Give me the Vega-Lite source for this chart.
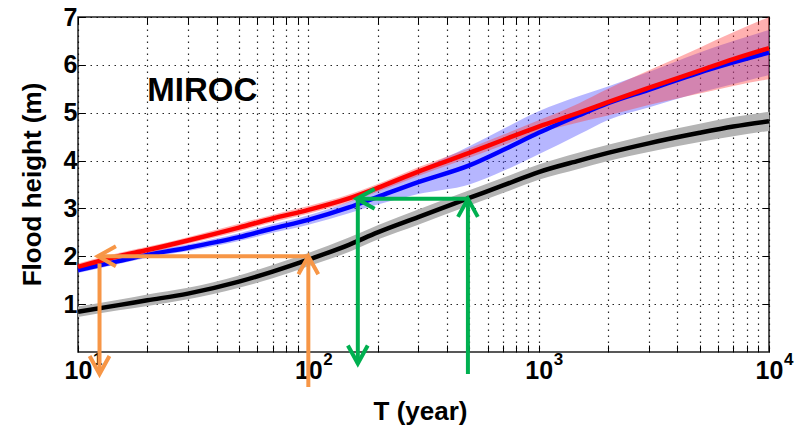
{
  "$schema": "https://vega.github.io/schema/vega-lite/v6.json",
  "width": 691,
  "height": 335,
  "autosize": {"type": "none"},
  "padding": {"left": 78, "top": 17, "right": 33, "bottom": 75},
  "background": "white",
  "datasets": {
    "curves": [
      {"s": "obs", "T": 10, "y": 0.84, "lo": 0.73, "hi": 0.95},
      {"s": "obs", "T": 15, "y": 0.98, "lo": 0.87, "hi": 1.09},
      {"s": "obs", "T": 20, "y": 1.08, "lo": 0.96, "hi": 1.2},
      {"s": "obs", "T": 30, "y": 1.22, "lo": 1.1, "hi": 1.34},
      {"s": "obs", "T": 50, "y": 1.47, "lo": 1.34, "hi": 1.6},
      {"s": "obs", "T": 70, "y": 1.68, "lo": 1.54, "hi": 1.82},
      {"s": "obs", "T": 100, "y": 1.93, "lo": 1.79, "hi": 2.07},
      {"s": "obs", "T": 150, "y": 2.24, "lo": 2.09, "hi": 2.39},
      {"s": "obs", "T": 200, "y": 2.5, "lo": 2.35, "hi": 2.65},
      {"s": "obs", "T": 300, "y": 2.82, "lo": 2.66, "hi": 2.98},
      {"s": "obs", "T": 500, "y": 3.22, "lo": 3.06, "hi": 3.38},
      {"s": "obs", "T": 700, "y": 3.48, "lo": 3.32, "hi": 3.64},
      {"s": "obs", "T": 1000, "y": 3.76, "lo": 3.6, "hi": 3.92},
      {"s": "obs", "T": 1500, "y": 4.0, "lo": 3.83, "hi": 4.17},
      {"s": "obs", "T": 2000, "y": 4.16, "lo": 3.99, "hi": 4.33},
      {"s": "obs", "T": 3000, "y": 4.36, "lo": 4.18, "hi": 4.54},
      {"s": "obs", "T": 5000, "y": 4.58, "lo": 4.39, "hi": 4.77},
      {"s": "obs", "T": 7000, "y": 4.71, "lo": 4.51, "hi": 4.91},
      {"s": "obs", "T": 10000, "y": 4.82, "lo": 4.62, "hi": 5.02},
      {"s": "blue", "T": 10, "y": 1.71, "lo": 1.65, "hi": 1.77},
      {"s": "blue", "T": 15, "y": 1.9, "lo": 1.84, "hi": 1.96},
      {"s": "blue", "T": 20, "y": 2.03, "lo": 1.97, "hi": 2.09},
      {"s": "blue", "T": 30, "y": 2.18, "lo": 2.11, "hi": 2.25},
      {"s": "blue", "T": 50, "y": 2.4, "lo": 2.32, "hi": 2.48},
      {"s": "blue", "T": 70, "y": 2.58, "lo": 2.49, "hi": 2.67},
      {"s": "blue", "T": 100, "y": 2.76, "lo": 2.66, "hi": 2.86},
      {"s": "blue", "T": 150, "y": 3.02, "lo": 2.9, "hi": 3.14},
      {"s": "blue", "T": 200, "y": 3.24, "lo": 3.08, "hi": 3.4},
      {"s": "blue", "T": 300, "y": 3.55, "lo": 3.3, "hi": 3.8},
      {"s": "blue", "T": 500, "y": 3.9, "lo": 3.5, "hi": 4.3},
      {"s": "blue", "T": 700, "y": 4.22, "lo": 3.78, "hi": 4.66},
      {"s": "blue", "T": 1000, "y": 4.58, "lo": 4.13, "hi": 5.03},
      {"s": "blue", "T": 1500, "y": 4.95, "lo": 4.55, "hi": 5.35},
      {"s": "blue", "T": 2000, "y": 5.2, "lo": 4.85, "hi": 5.55},
      {"s": "blue", "T": 3000, "y": 5.48, "lo": 5.11, "hi": 5.85},
      {"s": "blue", "T": 5000, "y": 5.84, "lo": 5.42, "hi": 6.26},
      {"s": "blue", "T": 7000, "y": 6.05, "lo": 5.6, "hi": 6.5},
      {"s": "blue", "T": 10000, "y": 6.26, "lo": 5.79, "hi": 6.73},
      {"s": "red", "T": 10, "y": 1.78, "lo": 1.71, "hi": 1.85},
      {"s": "red", "T": 15, "y": 2.0, "lo": 1.93, "hi": 2.07},
      {"s": "red", "T": 20, "y": 2.13, "lo": 2.06, "hi": 2.2},
      {"s": "red", "T": 30, "y": 2.33, "lo": 2.26, "hi": 2.4},
      {"s": "red", "T": 50, "y": 2.6, "lo": 2.52, "hi": 2.68},
      {"s": "red", "T": 70, "y": 2.79, "lo": 2.71, "hi": 2.87},
      {"s": "red", "T": 100, "y": 2.97, "lo": 2.89, "hi": 3.05},
      {"s": "red", "T": 150, "y": 3.21, "lo": 3.13, "hi": 3.29},
      {"s": "red", "T": 200, "y": 3.43, "lo": 3.35, "hi": 3.51},
      {"s": "red", "T": 300, "y": 3.77, "lo": 3.68, "hi": 3.86},
      {"s": "red", "T": 500, "y": 4.16, "lo": 4.06, "hi": 4.26},
      {"s": "red", "T": 700, "y": 4.43, "lo": 4.32, "hi": 4.54},
      {"s": "red", "T": 1000, "y": 4.71, "lo": 4.58, "hi": 4.84},
      {"s": "red", "T": 1500, "y": 5.0, "lo": 4.8, "hi": 5.2},
      {"s": "red", "T": 2000, "y": 5.22, "lo": 4.94, "hi": 5.5},
      {"s": "red", "T": 3000, "y": 5.52, "lo": 5.16, "hi": 5.88},
      {"s": "red", "T": 5000, "y": 5.88, "lo": 5.4, "hi": 6.36},
      {"s": "red", "T": 7000, "y": 6.12, "lo": 5.56, "hi": 6.68},
      {"s": "red", "T": 10000, "y": 6.35, "lo": 5.7, "hi": 7.0}
    ],
    "arrows": [
      {"c": "orange", "T": 100, "y": -0.73, "T2": 100, "y2": 2.0},
      {"c": "orange", "T": 100, "y": 2.0, "T2": 12.2, "y2": 2.0},
      {"c": "orange", "T": 12.4, "y": 1.85, "T2": 12.4, "y2": -0.46},
      {"c": "green", "T": 493, "y": -0.46, "T2": 493, "y2": 3.2},
      {"c": "green", "T": 493, "y": 3.2, "T2": 162, "y2": 3.2},
      {"c": "green", "T": 164, "y": 3.2, "T2": 164, "y2": -0.24}
    ],
    "heads": [
      {"c": "orange", "T": 100, "y": 2.0, "a": 0},
      {"c": "orange", "T": 12.2, "y": 2.0, "a": 270},
      {"c": "orange", "T": 12.4, "y": -0.46, "a": 180},
      {"c": "green", "T": 493, "y": 3.2, "a": 0},
      {"c": "green", "T": 162, "y": 3.2, "a": 270},
      {"c": "green", "T": 164, "y": -0.24, "a": 180}
    ],
    "decades": [
      {"T": 10, "e": "1"},
      {"T": 100, "e": "2"},
      {"T": 1000, "e": "3"},
      {"T": 10000, "e": "4"}
    ],
    "notes": [
      {"T": 20, "y": 5.25, "label": "MIROC"}
    ]
  },
  "layer": [
    {
      "data": {"name": "curves"},
      "transform": [{"filter": "datum.s == 'obs'"}],
      "mark": {"type": "area", "color": "#b4b4b4", "interpolate": "monotone"},
      "encoding": {
        "x": {
          "field": "T",
          "type": "quantitative",
          "scale": {"type": "log", "domain": [10, 10000], "nice": false},
          "axis": {
            "orient": "bottom",
            "title": "T (year)",
            "values": [10, 20, 30, 40, 50, 60, 70, 80, 90, 100, 200, 300, 400, 500, 600, 700, 800, 900, 1000, 2000, 3000, 4000, 5000, 6000, 7000, 8000, 9000, 10000],
            "labelExpr": "datum.value == 10 || datum.value == 100 || datum.value == 1000 || datum.value == 10000 ? '10' : ''",
            "labelOverlap": false,
            "labelFlush": false,
            "labelBound": false,
            "labelPadding": 13,
            "titleX": 342,
            "titleY": 67,
            "titleBaseline": "alphabetic"
          }
        },
        "y": {
          "field": "lo",
          "type": "quantitative",
          "scale": {"domain": [0, 7], "nice": false},
          "axis": {
            "orient": "left",
            "title": "Flood height (m)",
            "values": [1, 2, 3, 4, 5, 6, 7],
            "labelPadding": 8,
            "titleX": -46,
            "titleY": 167,
            "titleBaseline": "middle",
            "titleAngle": -90
          }
        },
        "y2": {"field": "hi"}
      }
    },
    {
      "data": {"name": "curves"},
      "transform": [{"filter": "datum.s == 'obs'"}],
      "mark": {"type": "line", "color": "#000000", "strokeWidth": 4.5, "interpolate": "monotone"},
      "encoding": {
        "x": {
          "field": "T",
          "type": "quantitative",
          "axis": {
            "orient": "top",
            "title": null,
            "labels": false,
            "grid": false,
            "values": [10, 20, 30, 40, 50, 60, 70, 80, 90, 100, 200, 300, 400, 500, 600, 700, 800, 900, 1000, 2000, 3000, 4000, 5000, 6000, 7000, 8000, 9000, 10000]
          }
        },
        "y": {
          "field": "y",
          "type": "quantitative",
          "axis": {
            "orient": "right",
            "title": null,
            "labels": false,
            "grid": false,
            "values": [1, 2, 3, 4, 5, 6, 7]
          }
        }
      }
    },
    {
      "data": {"name": "curves"},
      "transform": [{"filter": "datum.s == 'blue'"}],
      "mark": {"type": "area", "color": "#4848ff", "opacity": 0.4, "interpolate": "monotone"},
      "encoding": {
        "x": {"field": "T", "type": "quantitative", "axis": null},
        "y": {"field": "lo", "type": "quantitative", "axis": null},
        "y2": {"field": "hi"}
      }
    },
    {
      "data": {"name": "curves"},
      "transform": [{"filter": "datum.s == 'red'"}],
      "mark": {"type": "area", "color": "#ff3a3a", "opacity": 0.4, "interpolate": "monotone"},
      "encoding": {
        "x": {"field": "T", "type": "quantitative", "axis": null},
        "y": {"field": "lo", "type": "quantitative", "axis": null},
        "y2": {"field": "hi"}
      }
    },
    {
      "data": {"name": "curves"},
      "transform": [{"filter": "datum.s == 'blue'"}],
      "mark": {"type": "line", "color": "#0000ff", "strokeWidth": 4.5, "interpolate": "monotone"},
      "encoding": {
        "x": {"field": "T", "type": "quantitative", "axis": null},
        "y": {"field": "y", "type": "quantitative", "axis": null}
      }
    },
    {
      "data": {"name": "curves"},
      "transform": [{"filter": "datum.s == 'red'"}],
      "mark": {"type": "line", "color": "#ff0000", "strokeWidth": 4.5, "interpolate": "monotone"},
      "encoding": {
        "x": {"field": "T", "type": "quantitative", "axis": null},
        "y": {"field": "y", "type": "quantitative", "axis": null}
      }
    },
    {
      "data": {"name": "decades"},
      "mark": {"type": "text", "align": "left", "baseline": "alphabetic", "dx": 15, "fontSize": 17, "fontWeight": "bold", "font": "Liberation Sans", "color": "#000000"},
      "encoding": {
        "x": {"field": "T", "type": "quantitative", "axis": null},
        "y": {"datum": 0, "type": "quantitative", "axis": null},
        "yOffset": {"value": 13},
        "text": {"field": "e"}
      }
    },
    {
      "data": {"name": "arrows"},
      "mark": {"type": "rule", "strokeWidth": 4},
      "encoding": {
        "x": {"field": "T", "type": "quantitative", "axis": null},
        "x2": {"field": "T2"},
        "y": {"field": "y", "type": "quantitative", "axis": null},
        "y2": {"field": "y2"},
        "color": {
          "field": "c",
          "type": "nominal",
          "scale": {"domain": ["orange", "green"], "range": ["#f79646", "#00b050"]},
          "legend": null
        }
      }
    },
    {
      "data": {"name": "heads"},
      "mark": {"type": "point", "shape": "M-0.55,1L0,0L0.55,1", "filled": false, "strokeWidth": 4, "size": 1300, "opacity": 1},
      "encoding": {
        "x": {"field": "T", "type": "quantitative", "axis": null},
        "y": {"field": "y", "type": "quantitative", "axis": null},
        "angle": {"field": "a", "type": "quantitative", "scale": null},
        "color": {"field": "c", "type": "nominal", "legend": null}
      }
    },
    {
      "data": {"name": "notes"},
      "mark": {"type": "text", "align": "left", "baseline": "alphabetic", "fontSize": 33, "fontWeight": "bold", "font": "Liberation Sans", "color": "#000000"},
      "encoding": {
        "x": {"field": "T", "type": "quantitative", "axis": null},
        "y": {"field": "y", "type": "quantitative", "axis": null},
        "text": {"field": "label"}
      }
    }
  ],
  "resolve": {"axis": {"x": "independent", "y": "independent"}},
  "config": {
    "view": {"stroke": "#222222", "strokeWidth": 1.5},
    "font": "Liberation Sans",
    "axis": {
      "domain": false,
      "grid": true,
      "gridColor": "#000000",
      "gridDash": [1.5, 4.5],
      "gridWidth": 1.2,
      "gridOpacity": 0.85,
      "ticks": true,
      "tickSize": -7,
      "tickColor": "#000000",
      "tickWidth": 1,
      "labelFont": "Liberation Sans",
      "labelFontSize": 25,
      "labelFontWeight": "bold",
      "labelColor": "#000000",
      "titleFont": "Liberation Sans",
      "titleFontSize": 26,
      "titleFontWeight": "bold",
      "titleColor": "#000000"
    }
  }
}
